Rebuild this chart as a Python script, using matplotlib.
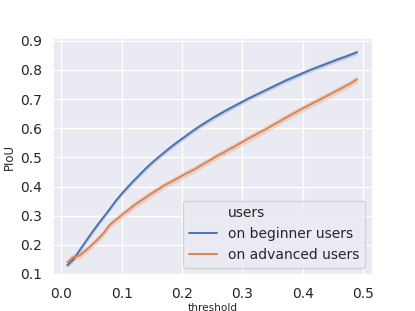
import matplotlib
matplotlib.use('Agg')
import matplotlib.pyplot as plt
import seaborn as sns
import numpy as np
from matplotlib.lines import Line2D

# threshold values (x axis)
thresholds = [round(0.01 * i, 2) for i in range(1, 50)]

# mean PIoU per threshold
beginner = [0.130, 0.150, 0.180, 0.210, 0.240, 0.268, 0.295, 0.322, 0.350, 0.375,
            0.398, 0.420, 0.441, 0.462, 0.481, 0.499, 0.516, 0.533, 0.549, 0.564,
            0.579, 0.594, 0.608, 0.621, 0.634, 0.646, 0.658, 0.669, 0.680, 0.691,
            0.702, 0.712, 0.722, 0.732, 0.742, 0.752, 0.762, 0.771, 0.780, 0.789,
            0.798, 0.806, 0.814, 0.822, 0.830, 0.838, 0.845, 0.853, 0.861]
advanced = [0.140, 0.158, 0.163, 0.180, 0.198, 0.218, 0.240, 0.268, 0.285, 0.302,
            0.318, 0.335, 0.349, 0.363, 0.377, 0.390, 0.403, 0.414, 0.425, 0.437,
            0.448, 0.458, 0.471, 0.483, 0.495, 0.507, 0.518, 0.530, 0.541, 0.553,
            0.565, 0.576, 0.587, 0.598, 0.610, 0.622, 0.634, 0.645, 0.657, 0.668,
            0.679, 0.690, 0.700, 0.711, 0.722, 0.733, 0.744, 0.755, 0.768]
# approx half-width of the confidence band
beginner_ci = 0.008
advanced_ci = 0.012

labels = ["on beginner users", "on advanced users"]

sns.set_theme(style="darkgrid")
plt.rcParams['font.family'] = ['DejaVu Sans']

fig = plt.figure(figsize=(4.15, 3.11), dpi=100)
ax = fig.add_axes([0.128, 0.1125, 0.771, 0.7655])

colors = sns.color_palette("deep")
x = np.array(thresholds)
for y, ci, lab, c in [(beginner, beginner_ci, labels[0], colors[0]),
                      (advanced, advanced_ci, labels[1], colors[1])]:
    y = np.array(y)
    ax.fill_between(x, y - ci, y + ci, color=c, alpha=0.25, linewidth=0)
    ax.plot(x, y, color=c, lw=1.4, label=lab)

ax.set_xlim(-0.0135, 0.5165)
ax.set_ylim(0.093, 0.91)
ax.set_xticks([0.0, 0.1, 0.2, 0.3, 0.4, 0.5])
ax.set_yticks([0.1, 0.2, 0.3, 0.4, 0.5, 0.6, 0.7, 0.8, 0.9])
ax.tick_params(labelsize=10, pad=2)
ax.set_xlabel("threshold", fontsize=7.6, labelpad=1)
ax.set_ylabel("PIoU", fontsize=8.5, labelpad=3)

handles = [Line2D([], [], color='none')] + ax.get_lines()
leg = ax.legend(handles, ["users"] + labels, loc="lower right", fontsize=10,
                handlelength=2, borderaxespad=0.6)

fig.savefig("out.png", dpi=100)
